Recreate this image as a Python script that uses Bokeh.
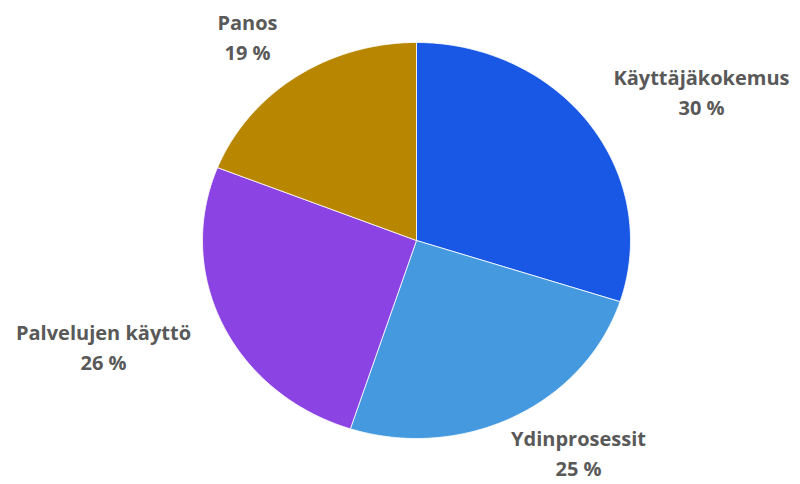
import numpy as np
from bokeh.plotting import figure
from bokeh.models import Range1d, ColumnDataSource
from bokeh.core.properties import value
from bokeh.embed import file_html
from bokeh.resources import INLINE

# data
categories = ["Käyttäjäkokemus", "Ydinprosessit", "Palvelujen käyttö", "Panos"]
shares = [30, 25, 26, 19]
colors = ["#1858E5", "#4599DF", "#8B44E3", "#B98600"]

# layout (pixel-like data space, y grows downward)
W, H = 800, 484
cx, cy = 416, 240
rx, ry = 214, 198
label_offsets = [(285, -163), (162, 198), (-313, 92), (-169, -218)]
line_gap = 30

p = figure(width=W, height=H, output_backend="svg", toolbar_location=None,
           x_range=Range1d(0, W), y_range=Range1d(H, 0), min_border=0)
p.axis.visible = False
p.grid.visible = False
p.outline_line_color = None
p.background_fill_color = "white"
p.border_fill_color = "white"

total = float(sum(shares))
start = 0.0
xs, ys = [], []
for s in shares:
    a0 = start / total * 2 * np.pi
    a1 = (start + s) / total * 2 * np.pi
    t = np.linspace(a0, a1, 120)
    xs.append([cx] + list(cx + rx * np.sin(t)) + [cx])
    ys.append([cy] + list(cy - ry * np.cos(t)) + [cy])
    start += s

p.patches(xs=xs, ys=ys, fill_color=colors, line_color="white", line_width=0.8)

name_x = [cx + dx for dx, dy in label_offsets]
name_y = [cy + dy for dx, dy in label_offsets]
pct_y = [y + line_gap for y in name_y]
pct_text = [f"{v} %" for v in shares]

src = ColumnDataSource(dict(x=name_x, y=name_y, y2=pct_y, name=categories, pct=pct_text))
common = dict(text_font=value("Open Sans"), text_font_style="bold", text_font_size="20px",
              text_color="#595959", text_align="center", text_baseline="middle")
p.text(x="x", y="y", text="name", source=src, **common)
p.text(x="x", y="y2", text="pct", source=src, **common)

open("out.html", "w").write(file_html(p, INLINE))
